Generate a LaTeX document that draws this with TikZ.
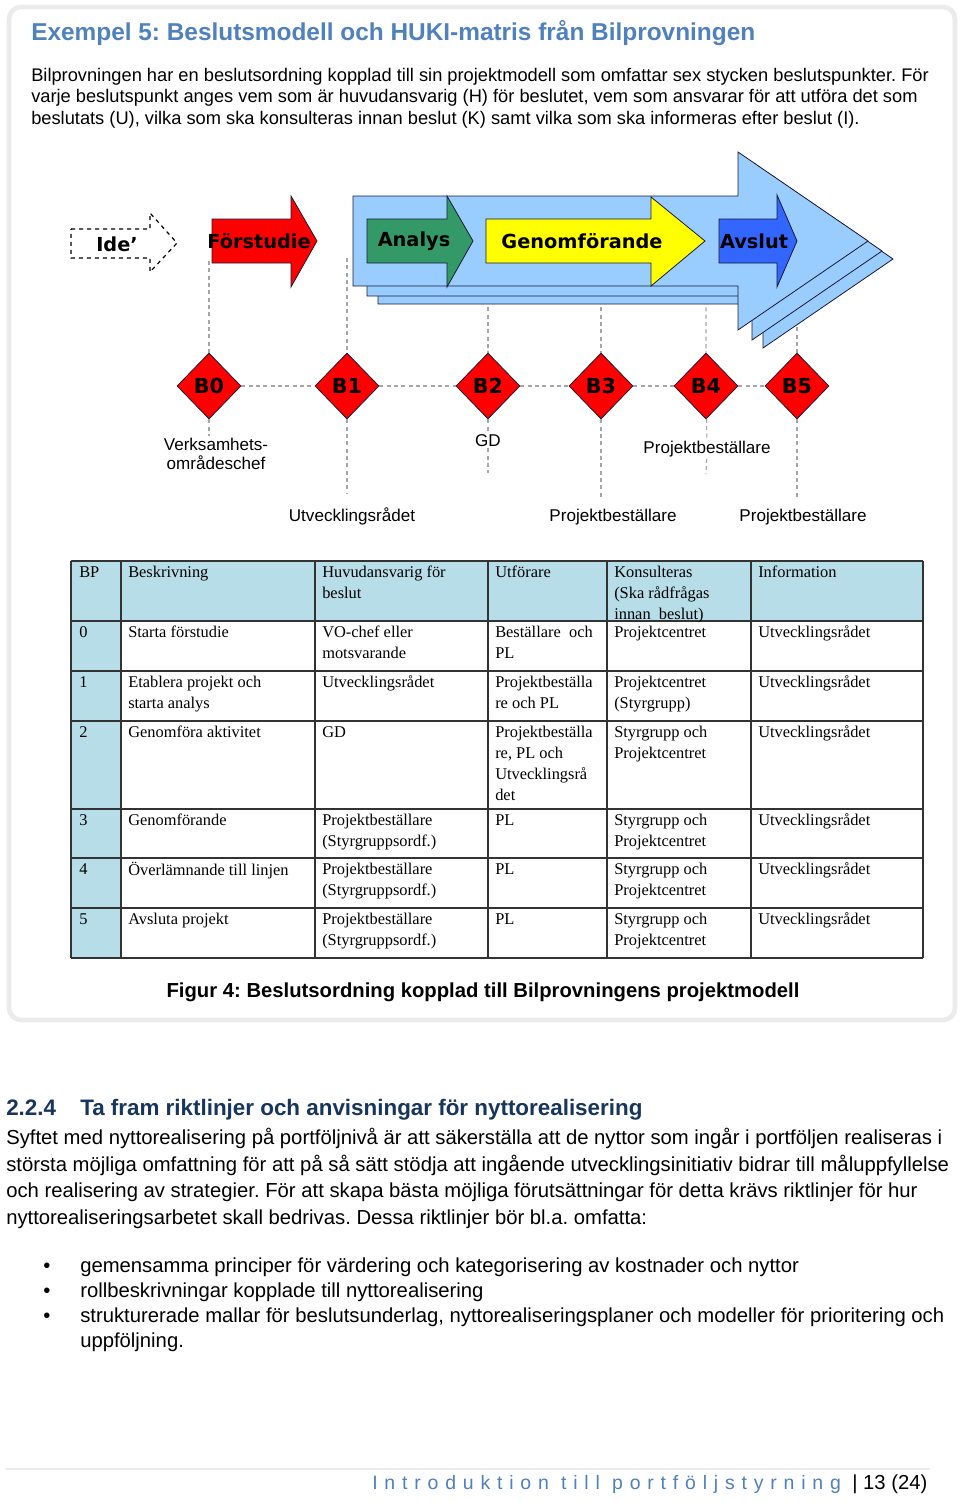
\documentclass[tikz,border=0pt]{standalone}
\usepackage{fontspec}
\setmainfont{Liberation Sans}
\newfontfamily\tabfont{Liberation Serif}
\newfontfamily\arrfont{DejaVu Sans}
\newfontfamily\spacedfont{Liberation Sans}[LetterSpace=35]
\usetikzlibrary{shapes.geometric}
\definecolor{titleblue}{HTML}{4F81BD}
\definecolor{headnavy}{HTML}{17365D}
\definecolor{bigblue}{HTML}{99CCFF}
\definecolor{fgreen}{HTML}{339966}
\definecolor{fyellow}{HTML}{FFFF00}
\definecolor{fblue}{HTML}{3366FF}
\definecolor{fred}{HTML}{FF0000}
\definecolor{tabshade}{HTML}{B6DDE8}
\definecolor{guidegray}{HTML}{A6A6A6}
\definecolor{framegray}{HTML}{EBEBEB}
\definecolor{outline}{HTML}{1A1A33}
\newcommand\cst{\rule{0pt}{9pt}}
\frenchspacing
\tikzset{
  txt/.style={anchor=base west, inner sep=0pt},
  para/.style={txt, font=\fontsize{13.7}{15.75}\selectfont},
  body/.style={txt, font=\fontsize{15.2}{18}\selectfont},
  shapeline/.style={draw=outline, line width=0.6pt},
  arrtxt/.style={inner sep=0pt, font=\arrfont\bfseries\fontsize{14.5}{16}\selectfont},
  bp/.style={diamond, draw=outline, fill=fred, line width=0.6pt, inner sep=0pt,
    minimum width=48pt, minimum height=49.5pt, font=\arrfont\bfseries\fontsize{15.5}{17}\selectfont},
  lbl/.style={inner sep=1.5pt, fill=white, font=\fontsize{12.8}{14.25}\selectfont, align=center},
  guide/.style={draw=guidegray, line width=0.8pt, dash pattern=on 3pt off 2.5pt},
  cell/.style={anchor=north west, inner sep=0pt, align=left, font=\tabfont\fontsize{12.3}{15.75}\selectfont},
  grid/.style={draw=black!80, line width=1pt}
}
\begin{document}
\begin{tikzpicture}[x=0.75pt,y=-0.75pt]
\useasboundingbox (0,0) rectangle (960,1502);
\fill[white] (0,0) rectangle (960,1502);
% frame
\draw[framegray, line width=3.5pt, rounded corners=9pt, fill=white] (9,7) rectangle (955,1020);
% title and intro
\node[txt, font=\bfseries\fontsize{18.3}{21}\selectfont, text=titleblue] (title) at (31,41)
  {Exempel 5: Beslutsmodell och HUKI-matris från Bilprovningen};
\node[para] (p1) at (31,82) {Bilprovningen har en beslutsordning kopplad till sin projektmodell som omfattar sex stycken beslutspunkter. För};
\node[para] (p2) at (31,103) {varje beslutspunkt anges vem som är huvudansvarig (H) för beslutet, vem som ansvarar för att utföra det som};
\node[para] (p3) at (31,124) {beslutats (U), vilka som ska konsulteras innan beslut (K) samt vilka som ska informeras efter beslut (I).};

% decision points
\node[bp] (B0) at (209,386) {B0};
\node[bp] (B1) at (347,386) {B1};
\node[bp] (B2) at (488,386) {B2};
\node[bp] (B3) at (601,386) {B3};
\node[bp] (B4) at (706,386) {B4};
\node[bp] (B5) at (797,386) {B5};

% labels
\node[lbl, anchor=north] (lVO) at (216,436) {Verksamhets-\\områdeschef};
\node[lbl, anchor=base] (lGD) at (488,446) {GD};
\node[lbl, anchor=base] (lPB4) at (707,453) {Projektbeställare};
\node[lbl, anchor=base] (lU) at (352,521) {Utvecklingsrådet};
\node[lbl, anchor=base] (lPB3) at (613,521) {Projektbeställare};
\node[lbl, anchor=base] (lPB5) at (803,521) {Projektbeställare};

% guide lines
\coordinate (t0) at (209,261);
\coordinate (t1) at (347,258);
\coordinate (t2) at (488,300);
\coordinate (t3) at (601,300);
\coordinate (t4) at (706,300);
\coordinate (t5) at (797,320);
\coordinate (e0) at (209,436);
\coordinate (e1) at (347,493);
\coordinate (e3) at (601,500);
\coordinate (e5) at (797,500);
\coordinate (e2) at (488,473);
\coordinate (e4) at (706,474);
\draw[guide] (B0) -- (B1) -- (B2) -- (B3) -- (B4) -- (B5);
\draw[guide] (t0) -- (B0) -- (e0);
\draw[guide] (t1) -- (B1) -- (e1);
\draw[guide] (t2) -- (B2) -- (lGD) -- (e2);
\draw[guide] (t3) -- (B3) -- (e3);
\draw[guide] (t4) -- (B4) -- (lPB4) -- (e4);
\draw[guide] (t5) -- (B5) -- (e5);

% Ide arrow
\draw[black, line width=0.9pt, dashed] (71,229) -- (150,229) -- (150,213) -- (177,243) -- (150,272) -- (150,258) -- (71,258) -- cycle;
\node[arrtxt] (ide) at (117,244) {Ide’};
% Forstudie
\draw[shapeline, fill=fred] (212,219) -- (291,219) -- (291,196) -- (317,241) -- (291,287) -- (291,263) -- (212,263) -- cycle;
\node[arrtxt] (fs) at (259,241) {Förstudie};
% big project arrow, three layers
\foreach \dx/\dy in {25/18, 14/10, 0/0}{
  \draw[shapeline, fill=bigblue, shift={(\dx,\dy)}] (353,196) -- (738,196) -- (738,152) -- (868,241) -- (738,330) -- (738,286) -- (353,286) -- cycle;
}
% Analys
\draw[shapeline, fill=fgreen] (367,219) -- (447,219) -- (447,196) -- (473,241) -- (447,287) -- (447,263) -- (367,263) -- cycle;
\node[arrtxt] (an) at (414,241) {Analys};
% Genomforande
\draw[shapeline, fill=fyellow] (486,219) -- (651,219) -- (651,197) -- (705,241) -- (651,286) -- (651,263) -- (486,263) -- cycle;
\node[arrtxt] (ge) at (582,241) {Genomförande};
% Avslut
\draw[shapeline, fill=fblue] (719,219) -- (777,219) -- (777,195) -- (797,241) -- (777,287) -- (777,263) -- (719,263) -- cycle;
\node[arrtxt] (av) at (754,241) {Avslut};

% table
\fill[tabshade] (71,561) rectangle (923,621);
\fill[tabshade] (71,621) rectangle (121,958);
\foreach \yy in {561,621,671,721,809,858,908,958}{\draw[grid] (71,\yy) -- (923,\yy);}
\foreach \xx in {71,121,315,488,607,751,923}{\draw[grid] (\xx,561) -- (\xx,958);}
% header
\node[cell] (h1) at (79,565) {\cst BP};
\node[cell] (h2) at (128,565) {\cst Beskrivning};
\node[cell] (h3) at (322,565) {\cst Huvudansvarig för\\beslut};
\node[cell] (h4) at (495,565) {\cst Utförare};
\node[cell] (h5) at (614,565) {\cst Konsulteras\\(Ska rådfrågas\\innan\ \ beslut)};
\node[cell] (h6) at (758,565) {\cst Information};
% row 0
\node[cell] (r0a) at (79,625) {\cst 0};
\node[cell] (r0b) at (128,625) {\cst Starta förstudie};
\node[cell] (r0c) at (322,625) {\cst VO-chef eller\\motsvarande};
\node[cell] (r0d) at (495,625) {\cst Beställare\ \ och\\PL};
\node[cell] (r0e) at (614,625) {\cst Projektcentret};
\node[cell] (r0f) at (758,625) {\cst Utvecklingsrådet};
% row 1
\node[cell] (r1a) at (79,675) {\cst 1};
\node[cell] (r1b) at (128,675) {\cst Etablera projekt och\\starta analys};
\node[cell] (r1c) at (322,675) {\cst Utvecklingsrådet};
\node[cell] (r1d) at (495,675) {\cst Projektbeställa\\re och PL};
\node[cell] (r1e) at (614,675) {\cst Projektcentret\\(Styrgrupp)};
\node[cell] (r1f) at (758,675) {\cst Utvecklingsrådet};
% row 2
\node[cell] (r2a) at (79,725) {\cst 2};
\node[cell] (r2b) at (128,725) {\cst Genomföra aktivitet};
\node[cell] (r2c) at (322,725) {\cst GD};
\node[cell] (r2d) at (495,725) {\cst Projektbeställa\\re, PL och\\Utvecklingsrå\\det};
\node[cell] (r2e) at (614,725) {\cst Styrgrupp och\\Projektcentret};
\node[cell] (r2f) at (758,725) {\cst Utvecklingsrådet};
% row 3
\node[cell] (r3a) at (79,813) {\cst 3};
\node[cell] (r3b) at (128,813) {\cst Genomförande};
\node[cell] (r3c) at (322,813) {\cst Projektbeställare\\(Styrgruppsordf.)};
\node[cell] (r3d) at (495,813) {\cst PL};
\node[cell] (r3e) at (614,813) {\cst Styrgrupp och\\Projektcentret};
\node[cell] (r3f) at (758,813) {\cst Utvecklingsrådet};
% row 4
\node[cell] (r4a) at (79,862) {\cst 4};
\node[cell] (r4b) at (128,862) {\cst Överlämnande till linjen};
\node[cell] (r4c) at (322,862) {\cst Projektbeställare\\(Styrgruppsordf.)};
\node[cell] (r4d) at (495,862) {\cst PL};
\node[cell] (r4e) at (614,862) {\cst Styrgrupp och\\Projektcentret};
\node[cell] (r4f) at (758,862) {\cst Utvecklingsrådet};
% row 5
\node[cell] (r5a) at (79,912) {\cst 5};
\node[cell] (r5b) at (128,912) {\cst Avsluta projekt};
\node[cell] (r5c) at (322,912) {\cst Projektbeställare\\(Styrgruppsordf.)};
\node[cell] (r5d) at (495,912) {\cst PL};
\node[cell] (r5e) at (614,912) {\cst Styrgrupp och\\Projektcentret};
\node[cell] (r5f) at (758,912) {\cst Utvecklingsrådet};

% caption
\node[anchor=base, inner sep=0pt, font=\bfseries\fontsize{15.2}{18}\selectfont] (cap) at (483,997)
  {Figur 4: Beslutsordning kopplad till Bilprovningens projektmodell};

% section text
\node[txt, font=\bfseries\fontsize{16.8}{19}\selectfont, text=headnavy] (secnum) at (6,1115) {2.2.4};
\node[txt, font=\bfseries\fontsize{16.8}{19}\selectfont, text=headnavy] (sectitle) at (80,1115) {Ta fram riktlinjer och anvisningar för nyttorealisering};
\node[body] (b1) at (6,1144) {Syftet med nyttorealisering på portföljnivå är att säkerställa att de nyttor som ingår i portföljen realiseras i};
\node[body] (b2) at (6,1171) {största möjliga omfattning för att på så sätt stödja att ingående utvecklingsinitiativ bidrar till måluppfyllelse};
\node[body] (b3) at (6,1197) {och realisering av strategier. För att skapa bästa möjliga förutsättningar för detta krävs riktlinjer för hur};
\node[body] (b4) at (6,1224) {nyttorealiseringsarbetet skall bedrivas. Dessa riktlinjer bör bl.a. omfatta:};
\node[body] (d1) at (43,1272) {•};
\node[body] (d2) at (43,1297) {•};
\node[body] (d3) at (43,1322) {•};
\node[body] (i1) at (80,1272) {gemensamma principer för värdering och kategorisering av kostnader och nyttor};
\node[body] (i2) at (80,1297) {rollbeskrivningar kopplade till nyttorealisering};
\node[body] (i3) at (80,1322) {strukturerade mallar för beslutsunderlag, nyttorealiseringsplaner och modeller för prioritering och};
\node[body] (i3b) at (80,1347) {uppföljning.};

% footer
\draw[framegray, line width=1.5pt] (5,1469) -- (930,1469);
\node[txt, font=\spacedfont\fontsize{14.6}{17}\selectfont, text=titleblue] (foot) at (372,1489) {Introduktion till portföljstyrning};
\node[txt, font=\fontsize{15.2}{17}\selectfont] (page) at (852,1489) {| 13 (24)};
\end{tikzpicture}
\end{document}
